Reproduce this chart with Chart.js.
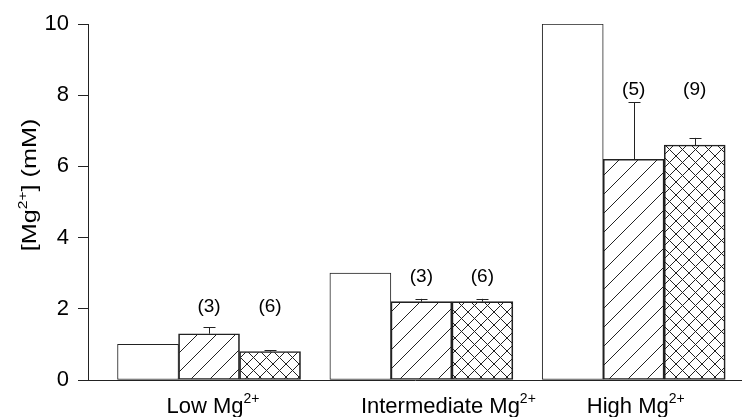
<!DOCTYPE html>
<html>
<head>
<meta charset="utf-8">
<script src="https://cdn.jsdelivr.net/npm/chart.js@4.4.1/dist/chart.umd.min.js"></script>
<style>
  html, body { margin: 0; padding: 0; background: #fff; }
  #wrap { width: 742px; height: 417px; }
</style>
</head>
<body>
<div id="wrap"><canvas id="myChart"></canvas></div>
<script>
// groups on the x axis (base text + superscript)
const groups = ['Low Mg', 'Intermediate Mg', 'High Mg'];
const groupSup = '2+';
// series values in mM
const control = [1.0, 3.0, 10.0];
const hatched = [1.3, 2.2, 6.2];
const hatchedErr = [0.18, 0.08, 1.6];
const hatchedN = [3, 3, 5];
const crossed = [0.8, 2.2, 6.6];
const crossedErr = [0.04, 0.08, 0.2];
const crossedN = [6, 6, 9];
// height (in mM) where the (n) labels sit for each group
const nLabelAt = [2.05, 2.9, 8.15];
const yTicks = [0, 2, 4, 6, 8, 10];

const FONT = '"Liberation Sans", Arial, Helvetica, sans-serif';
const INK = '#222';
const TXT = '#000';
const labelShift = [4, 27, 2]; // the original labels are not quite centred

// hatch fills
function hatch(cross) {
    const p = cross ? 13 : 19;
    const c = document.createElement('canvas');
    c.width = p; c.height = p;
    const g = c.getContext('2d');
    g.strokeStyle = INK;
    g.lineWidth = 1;
    g.beginPath();
    g.moveTo(-1, p + 1); g.lineTo(p + 1, -1);
    g.moveTo(-2, 2); g.lineTo(2, -2);
    g.moveTo(p - 2, p + 2); g.lineTo(p + 2, p - 2);
    if (cross) {
        g.moveTo(-1, -1); g.lineTo(p + 1, p + 1);
        g.moveTo(p - 2, -2); g.lineTo(p + 2, 2);
        g.moveTo(-2, p - 2); g.lineTo(2, p + 2);
    }
    g.stroke();
    return g.createPattern(c, 'repeat');
}

function toPoints(vals) {
    return vals.map((v, i) => ({ x: i, y: v }));
}

// draws "base" + raised "sup", centred on x
function supText(ctx, base, sup, x, y, size) {
    ctx.font = size + 'px ' + FONT;
    const w1 = ctx.measureText(base).width;
    const ss = Math.round(size * 0.62);
    ctx.font = ss + 'px ' + FONT;
    const w2 = ctx.measureText(sup).width;
    const left = x - (w1 + w2) / 2;
    ctx.textAlign = 'left';
    ctx.textBaseline = 'alphabetic';
    ctx.font = size + 'px ' + FONT;
    ctx.fillText(base, left, y);
    ctx.font = ss + 'px ' + FONT;
    ctx.fillText(sup, left + w1, y - size * 0.45);
    return w1 + w2;
}

const extras = {
    id: 'extras',
    afterDatasetsDraw(chart) {
        const ctx = chart.ctx;
        const ys = chart.scales.y;
        ctx.save();
        ctx.strokeStyle = INK;
        ctx.fillStyle = TXT;
        ctx.lineWidth = 1;
        [[1, hatched, hatchedErr, hatchedN], [2, crossed, crossedErr, crossedN]].forEach(([di, vals, errs, ns]) => {
            const meta = chart.getDatasetMeta(di);
            meta.data.forEach((bar, i) => {
                const x = Math.round(bar.x) + 0.5;
                const top = ys.getPixelForValue(vals[i] + errs[i]);
                ctx.beginPath();
                ctx.moveTo(x, bar.y);
                ctx.lineTo(x, top);
                ctx.moveTo(x - 6, Math.round(top) + 0.5);
                ctx.lineTo(x + 6, Math.round(top) + 0.5);
                ctx.stroke();
                ctx.font = '19px ' + FONT;
                ctx.textAlign = 'center';
                ctx.textBaseline = 'middle';
                ctx.fillText('(' + ns[i] + ')', bar.x, ys.getPixelForValue(nLabelAt[i]));
            });
        });
        ctx.restore();
    },
    afterDraw(chart) {
        const ctx = chart.ctx;
        const xs = chart.scales.x;
        ctx.save();
        ctx.fillStyle = TXT;
        groups.forEach((g, i) => {
            supText(ctx, g, groupSup, xs.getPixelForValue(i) + labelShift[i], 413, 22);
        });
        // y axis title
        ctx.translate(36, 185);
        ctx.rotate(-Math.PI / 2);
        ctx.scale(1.2, 1);
        ctx.font = '21px ' + FONT;
        const a = '[Mg', b = '] (mM)';
        const wa = ctx.measureText(a).width;
        const wb = ctx.measureText(b).width;
        ctx.font = '13px ' + FONT;
        const ws = ctx.measureText(groupSup).width;
        let left = -(wa + ws + wb) / 2;
        ctx.textAlign = 'left';
        ctx.font = '21px ' + FONT;
        ctx.fillText(a, left, 0);
        ctx.font = '13px ' + FONT;
        ctx.fillText(groupSup, left + wa, -9.5);
        ctx.font = '21px ' + FONT;
        ctx.fillText(b, left + wa + ws, 0);
        ctx.restore();
    }
};

const data = {
    datasets: [{
        data: toPoints(control),
        backgroundColor: '#fff',
        borderColor: INK,
        borderWidth: 1,
        borderSkipped: false
    }, {
        data: toPoints(hatched),
        backgroundColor: hatch(false),
        borderColor: INK,
        borderWidth: 1,
        borderSkipped: false
    }, {
        data: toPoints(crossed),
        backgroundColor: hatch(true),
        borderColor: INK,
        borderWidth: 1,
        borderSkipped: false
    }]
};

const options = {
    responsive: true,
    maintainAspectRatio: false,
    animation: false,
    layout: { padding: { top: 24, right: 0, left: 0, bottom: 0 } },
    datasets: { bar: { barThickness: 61, barPercentage: 1, categoryPercentage: 1 } },
    plugins: { legend: { display: false }, tooltip: { enabled: false } },
    scales: {
        x: {
            type: 'linear',
            offset: false,
            min: -0.57,
            max: 2.51,
            grid: { display: false },
            border: { display: true, color: INK, width: 1 },
            ticks: { display: false },
            afterFit: s => { s.height = 37; }
        },
        y: {
            min: 0,
            max: 10,
            afterBuildTicks: s => { s.ticks = yTicks.map(v => ({ value: v })); },
            grid: { display: true, drawOnChartArea: false, drawTicks: true, tickLength: 10, color: INK },
            border: { display: true, color: INK, width: 1 },
            ticks: { color: TXT, font: { family: FONT, size: 22 }, padding: 9 },
            afterFit: s => { s.width = 88; }
        }
    }
};

const config = {
    type: 'bar',
    data: data,
    options: options,
    plugins: [extras]
};

const myChart = new Chart(document.getElementById('myChart'), config);
</script>
</body>
</html>
